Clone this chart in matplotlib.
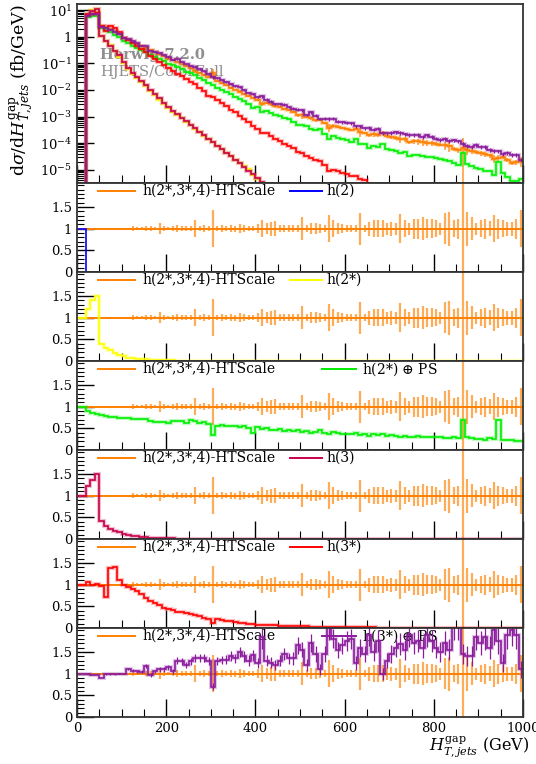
import numpy as np
import matplotlib
matplotlib.use('Agg')
import matplotlib.pyplot as plt
from matplotlib.ticker import FixedLocator, MultipleLocator, NullFormatter, FuncFormatter

plt.rcParams['font.family'] = ['DejaVu Serif']
plt.rcParams['mathtext.fontset'] = 'dejavuserif'

# ---------------- data ----------------
edges = [0] + list(range(20, 1001, 10))

ref_xs = [0, 6.03, 7.08, 7.59, 2.63, 2.24, 1.91, 1.58, 1.32,
          0.914, 0.764, 0.638, 0.533, 0.446, 0.372, 0.311, 0.260, 0.217, 0.182,
          0.152, 0.129, 0.108, 0.0914, 0.0771, 0.0646, 0.0537, 0.0447, 0.0372, 0.0309,
          0.0437, 0.0214, 0.0178, 0.0148, 0.0123, 0.0103, 0.00863, 0.00724, 0.00608, 0.00511,
          0.00438, 0.0031, 0.00335, 0.00293, 0.00256, 0.00224, 0.00195, 0.0017, 0.00148, 0.0011,
          0.00112, 0.000977, 0.000851, 0.000741, 0.00074, 0.000571, 0.000386, 0.000462, 0.000416, 0.000374,
          0.000341, 0.000316, 0.00035, 0.00027, 0.000249, 0.000197, 0.000218, 0.000204, 0.000239, 0.000179,
          0.000168, 0.000158, 0.000148, 0.000139, 0.00011, 0.000122, 0.000116, 0.00011, 0.000104, 9.82e-5,
          9.31e-5, 8.85e-5, 8.41e-5, 8.0e-5, 6.1e-5, 5.6e-5, 6.37e-5, 5.75e-5, 5.2e-5, 4.7e-5,
          4.25e-5, 3.84e-5, 3.47e-5, 2.66e-5, 2.83e-5, 3.07e-5, 2.33e-5, 1.8e-5, 1.92e-5, 2.17e-5]

ref_relerr = [0, 0.004, 0.004, 0.004, 0.006, 0.007, 0.008, 0.01, 0.012,
              0.015, 0.02, 0.06, 0.04, 0.04, 0.05, 0.06, 0.04, 0.12, 0.05,
              0.04, 0.05, 0.08, 0.06, 0.05, 0.05, 0.19, 0.06, 0.08, 0.05,
              0.43, 0.06, 0.08, 0.06, 0.08, 0.07, 0.11, 0.09, 0.05, 0.06,
              0.11, 0.19, 0.12, 0.16, 0.17, 0.08, 0.08, 0.08, 0.09, 0.09,
              0.26, 0.09, 0.12, 0.12, 0.11, 0.09, 0.31, 0.19, 0.12, 0.11,
              0.09, 0.09, 0.09, 0.37, 0.08, 0.16, 0.19, 0.19, 0.19, 0.14,
              0.16, 0.14, 0.33, 0.19, 0.14, 0.23, 0.23, 0.27, 0.22, 0.22,
              0.19, 0.14, 0.35, 0.39, 0.19, 0.23, 1.5, 0.39, 0.27, 0.14,
              0.19, 0.23, 0.17, 0.31, 0.23, 0.19, 0.16, 0.16, 0.23, 0.43]

# ratios to the reference
ratio_h2 = [1.0] + [0.0] * 98

ratio_h2s_ps = [1.0,
                0.9, 0.86, 0.82, 0.8, 0.78, 0.77, 0.75, 0.74,
                0.73, 0.73, 0.72, 0.72, 0.72, 0.72, 0.66, 0.65, 0.65, 0.65,
                0.63, 0.67, 0.66, 0.66, 0.62, 0.68, 0.67, 0.62, 0.64, 0.6,
                0.35, 0.55, 0.57, 0.56, 0.56, 0.55, 0.54, 0.55, 0.5, 0.4,
                0.52, 0.48, 0.5, 0.47, 0.45, 0.48, 0.44, 0.46, 0.43, 0.45,
                0.42, 0.44, 0.4, 0.42, 0.45, 0.4, 0.38, 0.41, 0.39, 0.37,
                0.38, 0.36, 0.4, 0.35, 0.37, 0.33, 0.36, 0.34, 0.38, 0.33,
                0.34, 0.32, 0.3, 0.33, 0.31, 0.3, 0.32, 0.29, 0.3, 0.31,
                0.29, 0.3, 0.28, 0.27, 0.3, 0.28, 0.7, 0.29, 0.27, 0.25,
                0.26, 0.24, 0.27, 0.25, 0.7, 0.24, 0.23, 0.22, 0.2, 0.21]

ratio_h3s = [1.0,
             1.05, 0.99, 1.02, 0.97, 0.72, 1.38, 1.4, 1.1,
             1.0, 0.95, 0.9, 0.85, 0.78, 0.7, 0.63, 0.58, 0.52, 0.47,
             0.43, 0.41, 0.38, 0.36, 0.34, 0.32, 0.3, 0.27, 0.24, 0.2,
             0.12, 0.2, 0.18, 0.17, 0.15, 0.14, 0.125, 0.115, 0.1, 0.09,
             0.08, 0.075, 0.07, 0.063, 0.058, 0.055, 0.05, 0.047, 0.044, 0.041,
             0.038, 0.035, 0.033, 0.031, 0.028, 0.026, 0.024, 0.022, 0.021, 0.02,
             0.02, 0.019, 0.017, 0.017, 0.016, 0.015, 0.012, 0.01, 0.008, 0.007,
             0.006, 0.005, 0.004, 0.004, 0.003, 0.003, 0.002, 0.002, 0.002, 0.001,
             0.001, 0.001, 0.001, 0.001, 0.001, 0.001, 0.001, 0.001, 0.001, 0.001,
             0.001, 0.001, 0.001, 0.001, 0.001, 0.001, 0.001, 0.001, 0.001, 0.001]

ratio_h3s_ps = [1.0,
                1.0, 0.97, 0.97, 0.9, 0.98, 0.98, 0.99, 1.0,
                1.0, 1.1, 1.07, 1.05, 1.04, 1.18, 0.97, 1.05, 1.1, 1.1,
                1.15, 1.05, 1.3, 1.28, 1.2, 1.28, 1.35, 1.35, 1.35, 1.3,
                0.7, 1.3, 1.32, 1.32, 1.4, 1.35, 1.5, 1.4, 1.3, 1.42,
                1.25, 1.85, 1.3, 1.25, 1.2, 1.3, 1.45, 1.35, 1.35, 1.65,
                1.55, 1.2, 1.7, 1.45, 1.1, 1.45, 2.1, 1.8, 1.55, 1.65,
                1.75, 1.8, 1.25, 1.6, 1.45, 1.9, 1.5, 1.75, 1.0, 1.3,
                1.45, 1.6, 1.68, 1.55, 1.9, 1.7, 1.75, 1.6, 1.9, 1.75,
                1.6, 1.5, 1.7, 1.55, 2.1, 2.1, 1.45, 1.4, 1.4, 1.85,
                1.7, 1.85, 1.6, 2.0, 1.75, 1.25, 1.9, 2.0, 1.9, 1.1]

relerr_h3s_ps = [0, 0.005, 0.005, 0.005, 0.008, 0.01, 0.01, 0.012, 0.015,
                 0.02, 0.02, 0.03, 0.03, 0.03, 0.04, 0.04, 0.04, 0.05, 0.05,
                 0.05, 0.05, 0.06, 0.06, 0.06, 0.06, 0.07, 0.07, 0.07, 0.07,
                 0.12, 0.07, 0.07, 0.08, 0.08, 0.08, 0.08, 0.09, 0.09, 0.09,
                 0.09, 0.15, 0.1, 0.1, 0.1, 0.1, 0.1, 0.1, 0.11, 0.12,
                 0.11, 0.11, 0.12, 0.12, 0.12, 0.12, 0.15, 0.12, 0.12, 0.12,
                 0.13, 0.13, 0.13, 0.13, 0.13, 0.14, 0.14, 0.14, 0.14, 0.14,
                 0.14, 0.14, 0.15, 0.15, 0.15, 0.15, 0.15, 0.15, 0.15, 0.15,
                 0.15, 0.15, 0.16, 0.16, 0.16, 0.16, 0.16, 0.16, 0.16, 0.16,
                 0.16, 0.17, 0.17, 0.17, 0.17, 0.17, 0.17, 0.18, 0.18, 0.18]

# cross sections (fb/GeV) of the steep LO samples
xs_h2s = [0, 7.24, 9.9, 11.4, 1.05, 0.69, 0.48, 0.30, 0.17,
          0.100, 0.061, 0.041, 0.029, 0.020, 0.0138, 0.0093, 0.0065, 0.0043, 0.0029,
          0.00205, 0.0015, 0.00112, 0.00085, 0.00063, 0.00047, 0.000347, 0.000257, 0.00019, 0.000141,
          0.000107, 7.9e-5, 5.9e-5, 4.4e-5, 3.2e-5, 2.4e-5, 1.8e-5, 1.35e-5, 1.12e-5, 6.3e-6,
          4.5e-6, 3.2e-6, 2.2e-6] + [0.0] * 57
xs_h3 = [0, 7.30, 9.63, 11.3, 1.10, 0.67, 0.44, 0.30, 0.20,
         0.11, 0.069, 0.045, 0.032, 0.0223, 0.0149, 0.00995, 0.007, 0.0048, 0.0033,
         0.00228, 0.00167, 0.00122, 0.0009, 0.00066, 0.00049, 0.00036, 0.00027, 0.0002, 0.000148,
         0.00011, 8.1e-5, 6.0e-5, 4.4e-5, 3.3e-5, 2.4e-5, 1.75e-5, 1.3e-5, 9.3e-6, 6.8e-6,
         5.0e-6, 3.6e-6, 2.6e-6] + [0.0] * 57

main_yticks = [1e-5, 1e-4, 1e-3, 1e-2, 1e-1, 1, 10]
ratio_yticks = [0, 0.5, 1, 1.5]

ref_label = 'h(2*,3*,4)-HTScale'
labels = ['h(2)', 'h(2*)', r'h(2*) $\oplus$ PS', 'h(3)', 'h(3*)', r'h(3*) $\oplus$ PS']
colors = ['#0000ff', '#ffff00', '#00ee00', '#c8004b', '#ff0000', '#8b1c9c']
ref_color = '#ff8000'

# ---------------- derived ----------------
edges = np.array(edges, dtype=float)
centers = 0.5 * (edges[1:] + edges[:-1])
ref = np.array(ref_xs)
rerr = np.array(ref_relerr)
safe_ref = np.where(ref > 0, ref, 1.0)

def ratio_from_xs(xs):
    xs = np.array(xs)
    return np.where(ref > 0, xs / safe_ref, 1.0)

ratios = [np.array(ratio_h2), ratio_from_xs(xs_h2s), np.array(ratio_h2s_ps),
          ratio_from_xs(xs_h3), np.array(ratio_h3s), np.array(ratio_h3s_ps)]
mains = [ref * ratios[0], np.array(xs_h2s), ref * ratios[2],
         np.array(xs_h3), ref * ratios[4], ref * ratios[5]]

# ---------------- figure ----------------
W, H = 536, 764
fig = plt.figure(figsize=(W / 100, H / 100), dpi=100)
L, R = 77, 523
def axrect(top, bot):
    return [L / W, 1 - bot / H, (R - L) / W, (bot - top) / H]

ax_main = fig.add_axes(axrect(4, 183))
tops = [183, 272, 361, 450, 539, 628]
rax = [fig.add_axes(axrect(t, t + 89)) for t in tops]

frame_col = '#333333'
def style(ax):
    for s in ax.spines.values():
        s.set_color(frame_col)
        s.set_linewidth(1.3)
        s.set_zorder(20)
    ax.tick_params(which='both', direction='in', top=False, right=False, colors='black',
                   labelsize=9.5)
    ax.tick_params(which='major', length=12, width=1.0)
    ax.tick_params(which='minor', length=5, width=0.8)
    ax.tick_params(axis='x', which='major', length=13)
    ax.tick_params(axis='x', which='minor', length=6)
    ax.set_xlim(0, 1000)
    ax.xaxis.set_major_locator(MultipleLocator(200))
    ax.xaxis.set_minor_locator(MultipleLocator(50))

# main panel
style(ax_main)
ax_main.set_yscale('log')
ax_main.set_ylim(3.2e-6, 17)
ax_main.yaxis.set_major_locator(FixedLocator(main_yticks))
minor = [m * d for d in [1e-6, 1e-5, 1e-4, 1e-3, 1e-2, 1e-1, 1, 10] for m in range(2, 10)]
ax_main.yaxis.set_minor_locator(FixedLocator([m for m in minor if 3.2e-6 < m < 17]))
ax_main.yaxis.set_minor_formatter(NullFormatter())
def logfmt(v, pos):
    e = int(round(np.log10(v)))
    return '1' if e == 0 else r'$10^{%d}$' % e
ax_main.yaxis.set_major_formatter(FuncFormatter(logfmt))
ax_main.xaxis.set_major_formatter(NullFormatter())

def pos(v):
    return np.where(v > 0, v, 1e-30)

ax_main.text((100 - L) / (R - L), 1 - (55 - 4) / 179, 'Herwig 7.2.0', transform=ax_main.transAxes,
             color='#8f8f8f', fontsize=10.5, fontweight='bold', va='center', ha='left', zorder=0)
ax_main.text((100 - L) / (R - L), 1 - (72 - 4) / 179, 'HJETS/ColorFull', transform=ax_main.transAxes,
             color='#8f8f8f', fontsize=10.5, va='center', ha='left', zorder=0)

# reference
ax_main.stairs(pos(ref), edges, color=ref_color, lw=3, alpha=0.3, baseline=None, zorder=2)
ax_main.stairs(pos(ref), edges, color=ref_color, lw=1.2, baseline=None, zorder=3)
lo = ref * (1 - rerr)
hi = ref * (1 + rerr)
ax_main.vlines(centers[1:], pos(lo[1:]), hi[1:], color=ref_color, lw=1.2, alpha=0.75, zorder=3)

for i in range(6):
    v = pos(mains[i])
    if i != 0:
        ax_main.stairs(v, edges, color=colors[i], lw=3, alpha=0.25, baseline=None, zorder=4 + i)
    ax_main.stairs(v, edges, color=colors[i], lw=1.2, baseline=None, zorder=4 + i)
perr = np.array(relerr_h3s_ps)
ax_main.vlines(centers[1:], pos(mains[5][1:] * (1 - perr[1:])), mains[5][1:] * (1 + perr[1:]),
               color=colors[5], lw=0.9, zorder=10)

ax_main.set_ylabel(r'd$\sigma$/d$H_{T,jets}^{\mathrm{gap}}$ (fb/GeV)', fontsize=12.5, loc='top',
                   labelpad=3)

# ratio panels
for k, ax in enumerate(rax):
    style(ax)
    ax.set_ylim(0, 2.05)
    ax.yaxis.set_major_locator(FixedLocator(ratio_yticks))
    ax.yaxis.set_minor_locator(MultipleLocator(0.1))
    ax.yaxis.set_major_formatter(FuncFormatter(lambda v, p: '%g' % v))
    if k < len(rax) - 1:
        ax.xaxis.set_major_formatter(NullFormatter())
    ax.axhline(1.0, color=ref_color, lw=1.4, zorder=2)
    ax.vlines(centers[1:], 1 - rerr[1:], 1 + rerr[1:], color=ref_color, lw=1.6, alpha=0.65, zorder=2)
    r = ratios[k]
    if k != 0:
        ax.stairs(r, edges, color=colors[k], lw=3, alpha=0.25, baseline=None, zorder=4)
    ax.stairs(r, edges, color=colors[k], lw=1.2, baseline=None, zorder=5)
    if k == 5:
        ax.vlines(centers[1:], r[1:] * (1 - perr[1:]), r[1:] * (1 + perr[1:]), color=colors[k],
                  lw=0.9, zorder=5)
    # legend
    ly = 1 - 8 / 89
    ax.plot([(98 - L) / (R - L), (135 - L) / (R - L)], [ly, ly], color=ref_color, lw=1.4,
            transform=ax.transAxes, clip_on=False, zorder=3)
    ax.text((142 - L) / (R - L), ly, ref_label, transform=ax.transAxes, fontsize=10,
            va='center', ha='left', zorder=3)
    long_lab = 'PS' in labels[k]
    x0, x1, xt = (322, 356, 362) if long_lab else (290, 322, 326)
    ax.plot([(x0 - L) / (R - L), (x1 - L) / (R - L)], [ly, ly], color=colors[k], lw=1.4,
            transform=ax.transAxes, clip_on=False, zorder=3)
    ax.text((xt - L) / (R - L), ly, labels[k], transform=ax.transAxes, fontsize=10,
            va='center', ha='left', zorder=3)

rax[-1].set_xlabel(r'$H_{T,jets}^{\mathrm{gap}}$ (GeV)', fontsize=11.5, loc='right')
rax[-1].xaxis.set_label_coords(1.015, -0.22, transform=None) if False else None
rax[-1].xaxis.set_label_coords(1.015, -0.2)
rax[-1].xaxis.label.set_va('top')

fig.savefig('out.png', dpi=100)
